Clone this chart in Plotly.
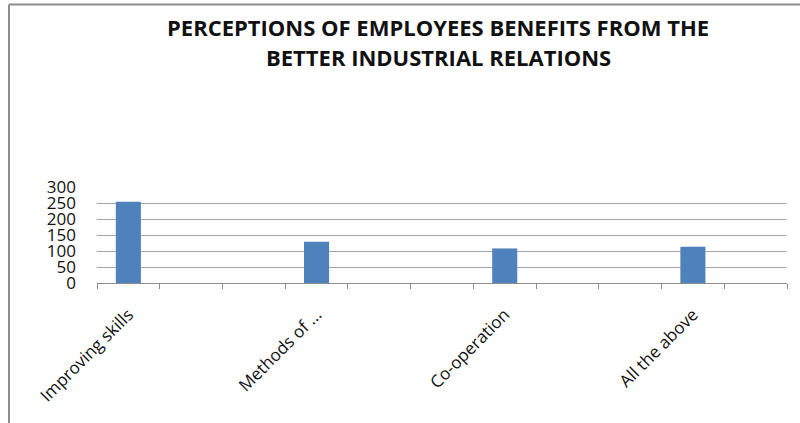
import plotly.graph_objects as go

# Category slots along the x axis (blank slots keep the spacing between labelled groups)
categories = ["Improving skills", " ", "  ", "Methods of ...", "   ", "    ",
              "Co-operation", "     ", "      ", "All the above", "       "]
counts = [254, None, None, 129, None, None, 108, None, None, 113, None]

y_ticks = [0, 50, 100, 150, 200, 250, 300]

title_lines = ["PERCEPTIONS OF EMPLOYEES BENEFITS FROM THE",
               "BETTER INDUSTRIAL RELATIONS"]

W, H = 800, 423
ml, mr, mt, mb = 97, 13, 187, 140
pw, ph = W - ml - mr, H - mt - mb

fig = go.Figure()
fig.add_trace(go.Bar(
    x=categories, y=counts, width=0.4,
    marker=dict(color="#4F81BD", line=dict(width=0)),
    showlegend=False,
))


def px_x(p):
    return (p - ml) / pw


def px_y(p):
    return (H - mb - p) / ph


# outer chart frame (top and left edges)
frame = dict(color="#8c8c8c", width=2)
fig.add_shape(type="line", xref="paper", yref="paper",
              x0=px_x(9), x1=px_x(805), y0=px_y(4.5), y1=px_y(4.5), line=frame)
fig.add_shape(type="line", xref="paper", yref="paper",
              x0=px_x(9), x1=px_x(9), y0=px_y(4.5), y1=px_y(430), line=frame)

# two-line chart title
for line, ypix in zip(title_lines, [27, 57]):
    fig.add_annotation(
        text=line, xref="paper", yref="paper",
        x=px_x(438), y=px_y(ypix), xanchor="center", yanchor="middle",
        showarrow=False,
        font=dict(family="Open Sans", size=22, color="#111111", weight="bold"),
    )

fig.update_layout(
    width=W, height=H,
    margin=dict(l=ml, r=mr, t=mt, b=mb),
    paper_bgcolor="white", plot_bgcolor="white",
    bargap=0.6,
    xaxis=dict(
        type="category", categoryorder="array", categoryarray=categories,
        tickson="boundaries", ticks="outside", ticklen=5,
        tickcolor="#8c8c8c", tickwidth=1,
        showline=True, linecolor="#8c8c8c", linewidth=1,
        showgrid=False, tickangle=-45, ticklabelstandoff=14,
        tickfont=dict(family="Open Sans", size=17, color="#111111"),
    ),
    yaxis=dict(
        range=[0, 300], tickvals=y_ticks,
        showgrid=True, gridcolor="#a6a6a6", gridwidth=1,
        showline=False, zeroline=False, ticks="",
        ticklabelstandoff=20,
        tickfont=dict(family="Open Sans", size=17, color="#111111"),
    ),
)

fig.write_html("out.html")
